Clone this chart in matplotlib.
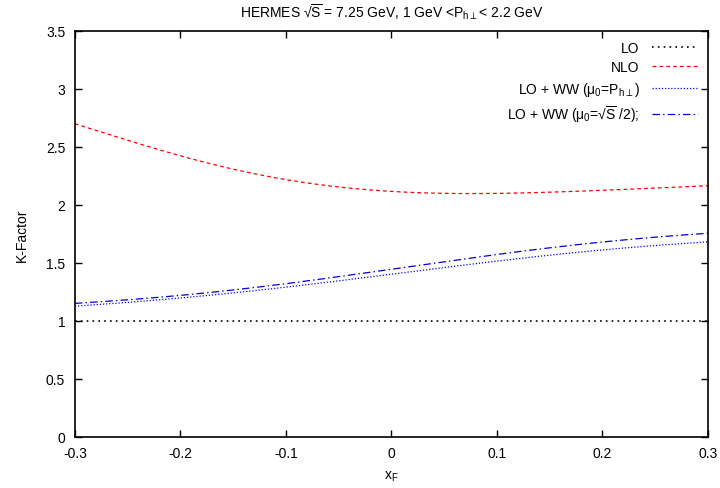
import matplotlib
matplotlib.use("Agg")
import matplotlib.pyplot as plt
import numpy as np

plt.rcParams['font.family'] = ['Liberation Sans', 'DejaVu Sans']
plt.rcParams['mathtext.fontset'] = 'custom'
plt.rcParams['mathtext.rm'] = 'Liberation Sans'
plt.rcParams['mathtext.it'] = 'Liberation Sans'
plt.rcParams['mathtext.sf'] = 'Liberation Sans'

# K-factor versus x_F
xF = [-0.30, -0.25, -0.20, -0.15, -0.10, -0.05, 0.00, 0.05, 0.10, 0.15, 0.20, 0.25, 0.30]
k_lo = [1.0] * len(xF)
k_nlo = [2.70, 2.555, 2.425, 2.31, 2.215, 2.155, 2.115, 2.10, 2.10, 2.108, 2.125, 2.145, 2.165]
k_ww_pt = [1.125, 1.16, 1.195, 1.24, 1.29, 1.345, 1.40, 1.46, 1.515, 1.565, 1.61, 1.65, 1.68]
k_ww_s = [1.15, 1.18, 1.22, 1.265, 1.32, 1.38, 1.445, 1.51, 1.57, 1.63, 1.68, 1.72, 1.755]

x_ticks = [-0.3, -0.2, -0.1, 0, 0.1, 0.2, 0.3]
x_labels = ['-0.3', '-0.2', '-0.1', '0', '0.1', '0.2', '0.3']
y_ticks = [0, 0.5, 1, 1.5, 2, 2.5, 3, 3.5]
y_labels = ['0', '0.5', '1', '1.5', '2', '2.5', '3', '3.5']

sqrt_s = '\u221a$\\overline{\\mathrm{S}}$'

fig = plt.figure(figsize=(7.2, 4.89), dpi=100)
ax = fig.add_axes([0.104, 0.105, 0.879, 0.8296])

xs = np.linspace(-0.3, 0.3, 200)
def smooth(y):
    return np.polyval(np.polyfit(xF, y, 5), xs)

ax.plot(xF, k_lo, color='black', linestyle=(0, (1, 2.5)), lw=1.2, label='LO')
ax.plot(xs, smooth(k_nlo), color='red', linestyle=(0, (3, 2.5)), lw=0.9, label='NLO')
ax.plot(xs, smooth(k_ww_pt), color='blue', linestyle=(0, (1, 1.5)), lw=0.9,
        label=r'LO + WW ($\mu_0$=P$_{h\perp}$)')
ax.plot(xs, smooth(k_ww_s), color='#0000cc', linestyle=(0, (6, 2.5, 1.2, 2.5)), lw=0.9,
        label=r'LO + WW ($\mu_0$=' + sqrt_s + ' /2);')

ax.set_xlim(-0.3, 0.3)
ax.set_ylim(0, 3.5)
ax.set_xticks(x_ticks)
ax.set_xticklabels(x_labels)
ax.set_yticks(y_ticks)
ax.set_yticklabels(y_labels)
ax.tick_params(direction='in', top=True, right=True, length=5, width=1, labelsize=10, pad=7)
for s in ax.spines.values():
    s.set_linewidth(1.2)

ax.set_xlabel(r'x$_F$', fontsize=10, labelpad=6)
ax.set_ylabel('K-Factor', fontsize=10, labelpad=12)
ax.set_title('HERMES ' + sqrt_s + r' = 7.25 GeV, 1 GeV <P$_{h\perp}$< 2.2 GeV', fontsize=10, pad=10)

leg = ax.legend(loc='upper right', frameon=False, markerfirst=False, fontsize=10,
                handlelength=3.3, handletextpad=0.9, labelspacing=0.4, borderaxespad=0.3)

fig.savefig('out.png', dpi=100)
